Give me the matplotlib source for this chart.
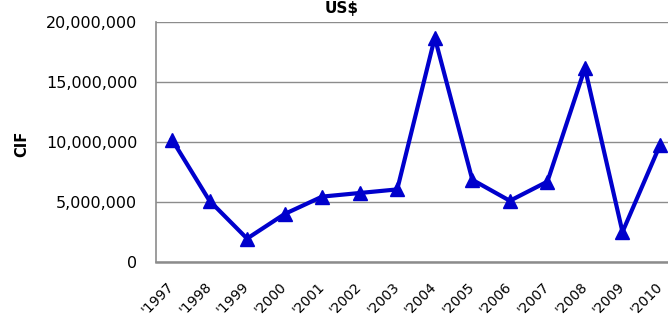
import matplotlib
matplotlib.use("Agg")
import matplotlib.pyplot as plt
from matplotlib.ticker import FuncFormatter

years = ["'1997", "'1998", "'1999", "'2000", "'2001", "'2002", "'2003",
         "'2004", "'2005", "'2006", "'2007", "'2008", "'2009", "'2010"]
cif_values = [10200000, 5100000, 1950000, 4000000, 5450000, 5750000, 6050000,
              18700000, 6850000, 5100000, 6700000, 16150000, 2500000, 9750000]
y_ticks = [0, 5000000, 10000000, 15000000, 20000000]
title = "US$"
ylabel = "CIF"

plt.rcParams['font.family'] = ['DejaVu Sans']

fig = plt.figure(figsize=(6.68, 3.22), dpi=100)
ax = fig.add_axes([156/668, 60/322, 522.8/668, 240/322])

x = list(range(len(years)))
ax.plot(x, cif_values, color='#0000CC', linewidth=3, marker='^',
        markersize=10.5, clip_on=False, zorder=3)

ax.set_xlim(-0.426, 13.5)
ax.set_ylim(0, 20000000)
ax.set_yticks(y_ticks)
ax.yaxis.set_major_formatter(FuncFormatter(lambda v, p: f"{int(v):,}"))
ax.set_xticks(x)
ax.set_xticklabels(years, rotation=45, ha='right', va='center',
                   rotation_mode='anchor', fontsize=10)
ax.tick_params(axis='y', length=0, pad=13.5, labelsize=11.5)
ax.tick_params(axis='x', length=0, pad=16)

ax.grid(axis='y', color='#8c8c8c', linewidth=1)
ax.set_axisbelow(True)
for s in ['top', 'right']:
    ax.spines[s].set_visible(False)
ax.spines['left'].set_color('#8c8c8c')
ax.spines['left'].set_linewidth(1.2)
ax.spines['bottom'].set_color('#8c8c8c')
ax.spines['bottom'].set_linewidth(1.8)

fig.text(342/668, 1 - 12.5/322, title, ha='center', va='baseline',
         fontsize=11, fontweight='bold')
fig.text(21.5/668, 1 - 143.5/322, ylabel, rotation=90, ha='center', va='center',
         fontsize=10.5, fontweight='bold')

fig.savefig("out.png", dpi=100)
